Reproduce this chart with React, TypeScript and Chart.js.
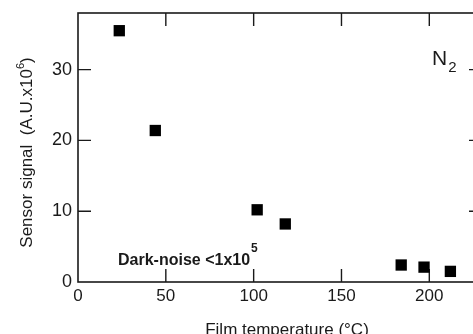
import React, { useEffect, useRef } from "react";
import { Chart, registerables } from "chart.js";

Chart.register(...registerables);

const temperatures = [23.5, 44, 102, 118, 184, 197, 212];
const signals = [35.5, 21.4, 10.2, 8.2, 2.4, 2.1, 1.5];
const xTickValues = [0, 50, 100, 150, 200];
const yTickValues = [0, 10, 20, 30];
const xTitle = "Film temperature (°C)";
const yTitleMain = "Sensor signal  (A.U.x10";
const yTitleSup = "6";
const yTitleEnd = ")";
const noteMain = "Dark-noise <1x10";
const noteSup = "5";
const gasMain = "N";
const gasSub = "2";

const FONT = "'Liberation Sans', Arial, sans-serif";
const INK = "#1a1a1a";

const framePlugin = {
  id: "frameTicks",
  beforeDatasetsDraw(chart: any) {
    const { ctx, chartArea } = chart;
    const { left, right, top, bottom } = chartArea;
    const xs = chart.scales.x;
    const ys = chart.scales.y;
    const tl = 13;
    ctx.save();
    ctx.strokeStyle = INK;
    ctx.lineWidth = 1.6;
    ctx.strokeRect(left, top, right - left, bottom - top);
    ctx.lineWidth = 1.4;
    ctx.beginPath();
    xTickValues.forEach((v) => {
      if (v === 0) return;
      const px = xs.getPixelForValue(v);
      ctx.moveTo(px, bottom);
      ctx.lineTo(px, bottom - tl);
      ctx.moveTo(px, top);
      ctx.lineTo(px, top + tl);
    });
    yTickValues.forEach((v) => {
      if (v === 0) return;
      const py = ys.getPixelForValue(v);
      ctx.moveTo(left, py);
      ctx.lineTo(left + tl, py);
      ctx.moveTo(right, py);
      ctx.lineTo(right - tl, py);
    });
    ctx.stroke();
    ctx.restore();
  },
  afterDraw(chart: any) {
    const { ctx } = chart;
    ctx.save();
    ctx.fillStyle = INK;
    ctx.textBaseline = "alphabetic";

    // x title
    ctx.font = `17px ${FONT}`;
    ctx.textAlign = "center";
    ctx.fillText(xTitle, 287, 335);

    // y title rotated
    ctx.save();
    ctx.translate(32, 152.5);
    ctx.rotate(-Math.PI / 2);
    ctx.font = `17px ${FONT}`;
    const w1 = ctx.measureText(yTitleMain).width;
    ctx.font = `11px ${FONT}`;
    const w2 = ctx.measureText(yTitleSup).width;
    ctx.font = `17px ${FONT}`;
    const w3 = ctx.measureText(yTitleEnd).width;
    const total = w1 + w2 + w3;
    let x0 = -total / 2;
    ctx.textAlign = "left";
    ctx.fillText(yTitleMain, x0, 0);
    x0 += w1;
    ctx.font = `11px ${FONT}`;
    ctx.fillText(yTitleSup, x0, -8);
    x0 += w2;
    ctx.font = `17px ${FONT}`;
    ctx.fillText(yTitleEnd, x0, 0);
    ctx.restore();

    // Dark-noise note
    ctx.textAlign = "left";
    ctx.font = `bold 16px ${FONT}`;
    ctx.fillText(noteMain, 118, 265);
    const nw = ctx.measureText(noteMain).width;
    ctx.font = `bold 12px ${FONT}`;
    ctx.fillText(noteSup, 118 + nw + 1, 252);

    // N2 label
    ctx.font = `21px ${FONT}`;
    ctx.fillText(gasMain, 432, 65);
    const gw = ctx.measureText(gasMain).width;
    ctx.font = `15px ${FONT}`;
    ctx.fillText(gasSub, 432 + gw + 1, 72);
    ctx.restore();
  },
};

export default function App() {
  const ref = useRef<HTMLCanvasElement | null>(null);
  useEffect(() => {
    if (!ref.current) return;
    const chart = new Chart(ref.current, {
      type: "scatter",
      data: {
        datasets: [
          {
            data: temperatures.map((t, i) => ({ x: t, y: signals[i] })),
            pointStyle: "rect",
            pointRadius: 8,
            pointBorderWidth: 0,
            backgroundColor: "#000",
            borderColor: "#000",
          },
        ],
      },
      options: {
        responsive: false,
        animation: false,
        layout: { padding: { top: 13, right: 6, left: 0, bottom: 0 } },
        plugins: { legend: { display: false }, tooltip: { enabled: false } },
        scales: {
          x: {
            type: "linear",
            min: 0,
            max: 230,
            grid: { display: false, drawTicks: false },
            border: { display: false },
            ticks: {
              stepSize: 50,
              padding: 4,
              color: INK,
              font: { family: FONT, size: 17 },
              maxRotation: 0,
            },
            afterBuildTicks: (s: any) => {
              s.ticks = xTickValues.map((v) => ({ value: v }));
            },
            afterFit: (s: any) => {
              s.height = 52;
              s.paddingLeft = 0;
              s.paddingRight = 0;
            },
          },
          y: {
            type: "linear",
            min: 0,
            max: 38,
            grid: { display: false, drawTicks: false },
            border: { display: false },
            ticks: {
              stepSize: 10,
              padding: 6,
              color: INK,
              font: { family: FONT, size: 18 },
            },
            afterBuildTicks: (s: any) => {
              s.ticks = yTickValues.map((v) => ({ value: v }));
            },
            afterFit: (s: any) => {
              s.width = 78;
              s.paddingTop = 0;
              s.paddingBottom = 0;
            },
          },
        },
      },
      plugins: [framePlugin],
    });
    return () => chart.destroy();
  }, []);
  return (
    <div
      style={{
        position: "absolute",
        left: 0,
        top: 0,
        width: 473,
        height: 334,
        overflow: "hidden",
        background: "#fff",
      }}
    >
      <canvas ref={ref} width={490} height={334} style={{ display: "block" }} />
    </div>
  );
}
